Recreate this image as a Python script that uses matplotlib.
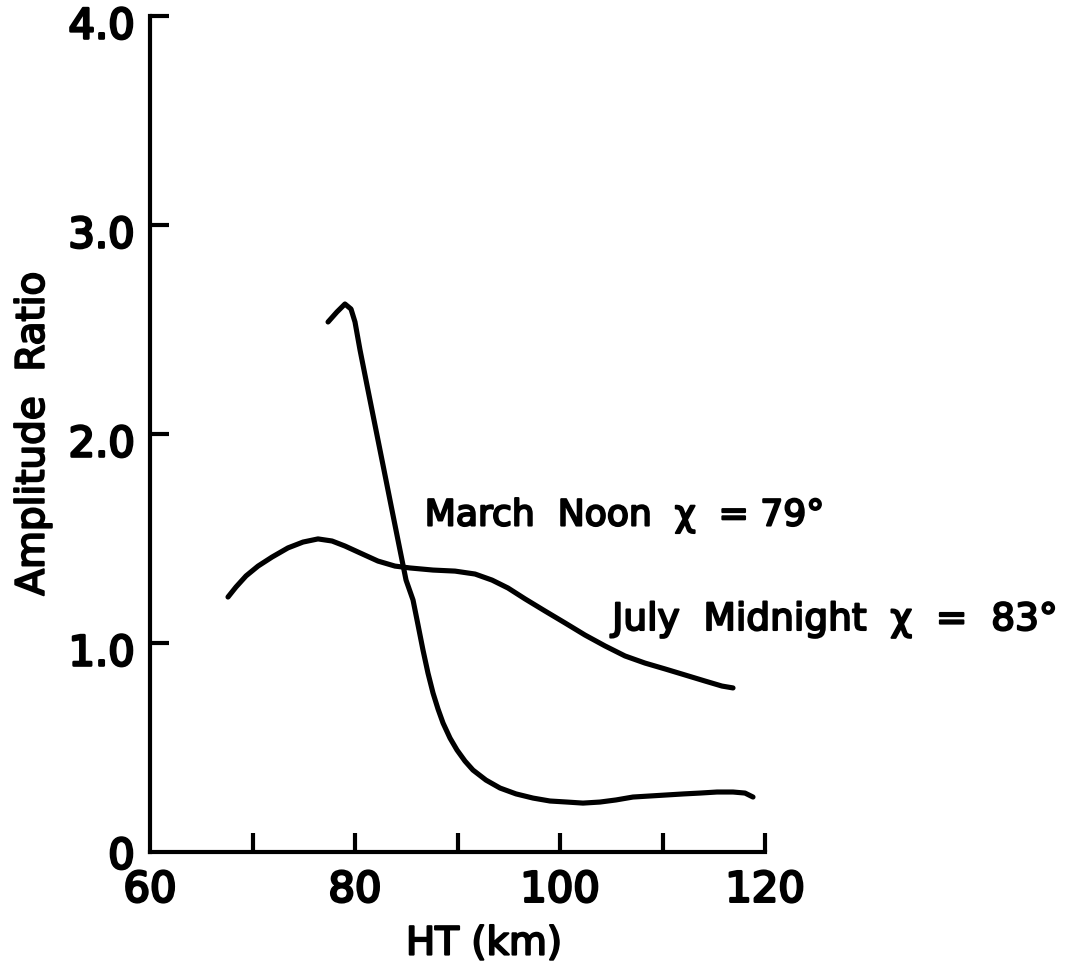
import matplotlib
matplotlib.use("Agg")
import matplotlib.pyplot as plt
import matplotlib.patheffects as pe
from matplotlib.transforms import ScaledTranslation

# Height (km) and amplitude ratio for the two profiles
march_ht = [77.37, 78.24, 79.02, 79.61, 80.0, 80.49, 81.17, 81.95, 82.73, 83.51,
            84.29, 84.98, 85.66, 86.15, 86.63, 87.12, 87.61, 88.10, 88.59, 89.27,
            89.95, 90.73, 91.51, 92.78, 94.15, 95.71, 97.37, 99.02, 100.68, 102.24,
            103.90, 105.46, 107.12, 108.78, 110.44, 112.10, 113.66, 115.32, 116.88,
            118.05, 118.83]
march_ratio = [2.536, 2.584, 2.622, 2.598, 2.536, 2.402, 2.234, 2.043, 1.852, 1.660,
               1.469, 1.301, 1.206, 1.086, 0.967, 0.856, 0.761, 0.684, 0.617, 0.545,
               0.488, 0.435, 0.392, 0.344, 0.306, 0.278, 0.258, 0.244, 0.239, 0.234,
               0.239, 0.249, 0.263, 0.268, 0.273, 0.278, 0.282, 0.287, 0.287,
               0.282, 0.263]

july_ht = [67.61, 68.39, 69.37, 70.54, 71.90, 73.46, 74.93, 76.39, 77.76, 79.02,
           80.49, 82.24, 83.90, 85.37, 87.61, 89.76, 91.71, 93.37, 94.93, 96.59,
           98.54, 100.49, 102.44, 104.39, 106.34, 108.29, 110.24, 112.20, 114.15,
           115.80, 116.88]
july_ratio = [1.220, 1.268, 1.321, 1.368, 1.411, 1.455, 1.483, 1.498, 1.488, 1.464,
              1.431, 1.392, 1.368, 1.359, 1.349, 1.344, 1.330, 1.301, 1.263, 1.211,
              1.153, 1.096, 1.038, 0.986, 0.938, 0.904, 0.876, 0.847, 0.818,
              0.794, 0.785]

x_major = [60, 80, 100, 120]
x_major_labels = ["60", "80", "100", "120"]
x_minor = [70, 90, 110]
y_ticks = [0, 1.0, 2.0, 3.0, 4.0]
y_tick_labels = ["0", "1.0", "2.0", "3.0", "4.0"]

march_label = "March  Noon  χ  = 79°"
july_label = "July  Midnight  χ  =  83°"

plt.rcParams["font.family"] = ["DejaVu Sans"]

# thicken the strokes of the lettering
heavy = [pe.withStroke(linewidth=1.5, foreground="black")]
heavier = [pe.withStroke(linewidth=1.9, foreground="black")]

fig = plt.figure(figsize=(10.89, 9.61), dpi=100)
ax = fig.add_axes([150 / 1089, 1 - 852 / 961, 615 / 1089, 836 / 961])

lw = 3.7
ax.plot(march_ht, march_ratio, color="black", lw=lw, solid_capstyle="round",
        solid_joinstyle="round")
ax.plot(july_ht, july_ratio, color="black", lw=lw, solid_capstyle="round",
        solid_joinstyle="round")

ax.set_xlim(60, 120)
ax.set_ylim(0, 4.0)

for side in ("top", "right"):
    ax.spines[side].set_visible(False)
for side in ("left", "bottom"):
    ax.spines[side].set_linewidth(3)
    ax.spines[side].set_capstyle("projecting")

ax.set_xticks(x_major)
ax.set_xticklabels(x_major_labels)
ax.set_xticks(x_minor, minor=True)
ax.set_yticks(y_ticks)
ax.set_yticklabels(y_tick_labels)

ax.tick_params(axis="both", which="both", direction="in", length=14, width=3,
               labelsize=30, color="black")
ax.tick_params(axis="x", which="major", pad=12)
ax.tick_params(axis="y", pad=11)

# hide the tick marks at the axis corner
ax.xaxis.get_major_ticks()[0].tick1line.set_visible(False)
ax.yaxis.get_major_ticks()[0].tick1line.set_visible(False)

# the decimal labels sit a little below their ticks
shift = ScaledTranslation(0, -6 / 100, fig.dpi_scale_trans)
for lab in ax.get_yticklabels()[1:]:
    lab.set_transform(lab.get_transform() + shift)
for lab in ax.get_xticklabels() + ax.get_yticklabels():
    lab.set_path_effects(heavier)

ax.set_xlabel("HT (km)", fontsize=28, labelpad=10, x=0.543, path_effects=heavy)
ax.set_ylabel("Amplitude  Ratio", fontsize=28, labelpad=12, path_effects=heavy)

ax.text(86.8, 1.61, march_label, fontsize=26, va="center", ha="left",
        path_effects=heavy)
ax.text(105.1, 1.11, july_label, fontsize=27, va="center", ha="left",
        clip_on=False, path_effects=heavy)

fig.savefig("out.png", dpi=100)
